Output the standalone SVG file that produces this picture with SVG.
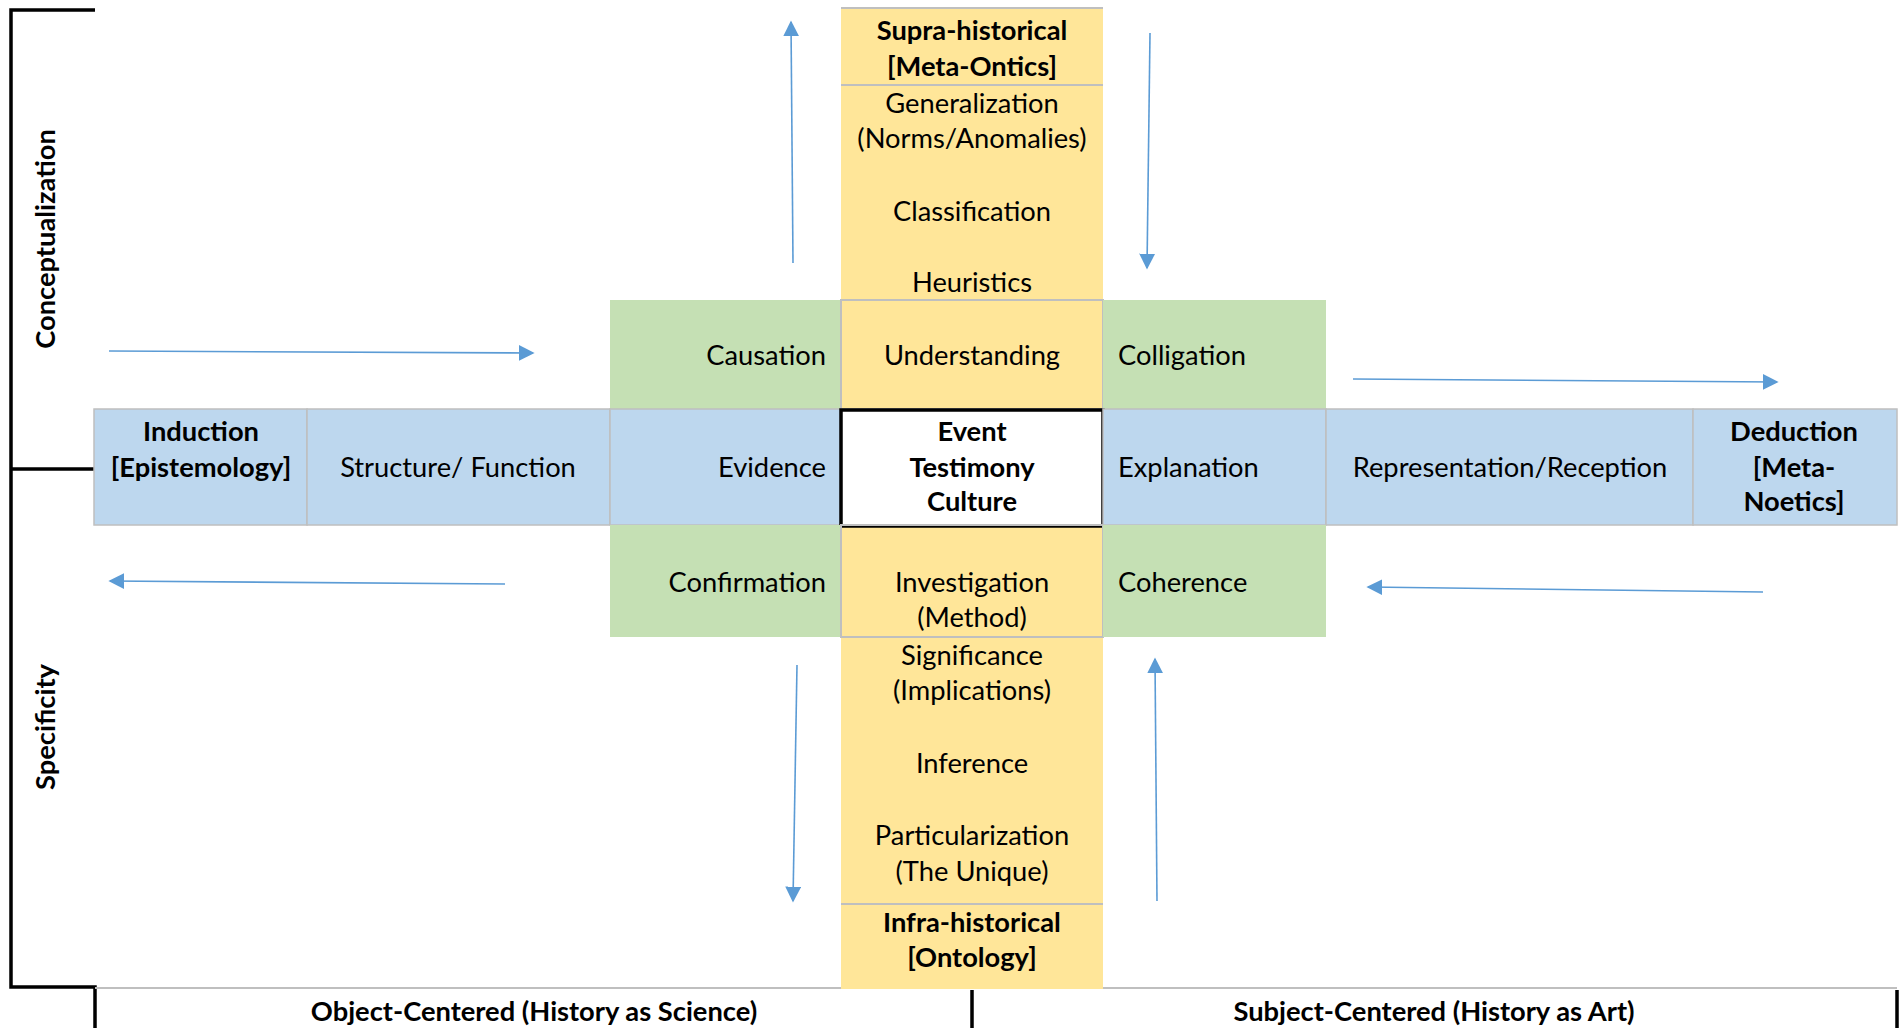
<svg xmlns="http://www.w3.org/2000/svg" width="1902" height="1028" viewBox="0 0 1902 1028">
<defs>
<style>
text{font-family:Lato,"Liberation Sans",sans-serif;font-size:27.3px;fill:#000}
.b{font-weight:bold}
.c{text-anchor:middle}
.e{text-anchor:end}
.y{fill:#FFE699}
.g{fill:#C5E0B4}
.bl{fill:#BDD7EE;stroke:#BFBFBF;stroke-width:1.5}
.gl{fill:none;stroke:#BFBFBF;stroke-width:2}
.k{fill:none;stroke:#000;stroke-width:3.5}
.ar{stroke:#5B9BD5;stroke-width:1.6;fill:none;marker-end:url(#ah)}
</style>
<marker id="ah" viewBox="0 0 10 10" refX="9" refY="5" markerWidth="16" markerHeight="16" markerUnits="userSpaceOnUse" orient="auto">
<path d="M0,0 L10,5 L0,10 z" fill="#5B9BD5"/>
</marker>
</defs>
<rect width="1902" height="1028" fill="#fff"/>
<g id="frame">
<path class="k" d="M95,10 H11 V987 H95 V1028"/>
<path class="k" d="M11,469 H95"/>
<path class="k" d="M972,990 V1028 M1897,990 V1028"/>
<line x1="95" y1="988" x2="1897" y2="988" stroke="#BFBFBF" stroke-width="2"/>
</g>
<g id="column">
<rect class="y" x="841" y="8" width="262" height="981"/>
<line x1="841" y1="8" x2="1103" y2="8" stroke="#BFBFBF" stroke-width="2"/>
<line x1="841" y1="85" x2="1103" y2="85" stroke="#BFBFBF" stroke-width="2"/>
<line x1="841" y1="904" x2="1103" y2="904" stroke="#BFBFBF" stroke-width="2"/>
</g>
<g id="supra"><text class="b c" x="972" y="40">Supra-historical</text><text class="b c" x="972" y="76">[Meta-Ontics]</text></g>
<g id="generalization"><text class="c" x="972" y="113">Generalization</text><text class="c" x="972" y="148">(Norms/Anomalies)</text></g>
<g id="classification"><text class="c" x="972" y="221">Classification</text></g>
<g id="heuristics"><text class="c" x="972" y="292">Heuristics</text></g>
<g id="causation"><rect class="g" x="610" y="300" width="231" height="109"/><text class="e" x="826" y="365">Causation</text></g>
<g id="understanding"><rect class="gl" x="841" y="300" width="262" height="109"/><text class="c" x="972" y="365">Understanding</text></g>
<g id="colligation"><rect class="g" x="1103" y="300" width="223" height="109"/><text x="1118" y="365">Colligation</text></g>
<g id="induction"><rect class="bl" x="94" y="409" width="213" height="116"/><text class="b c" x="201" y="441">Induction</text><text class="b c" x="201" y="477">[Epistemology]</text></g>
<g id="structure"><rect class="bl" x="307" y="409" width="303" height="116"/><text class="c" x="458" y="477">Structure/ Function</text></g>
<g id="evidence"><rect class="bl" x="610" y="409" width="231" height="116"/><text class="e" x="826" y="477">Evidence</text></g>
<g id="event"><rect x="841" y="410" width="262" height="116" fill="#fff" stroke="#000" stroke-width="3.5"/><text class="b c" x="972" y="441">Event</text><text class="b c" x="972" y="477">Testimony</text><text class="b c" x="972" y="511">Culture</text></g>
<g id="explanation"><rect class="bl" x="1103" y="409" width="223" height="116"/><text x="1118" y="477">Explanation</text></g>
<g id="representation"><rect class="bl" x="1326" y="409" width="367" height="116"/><text class="c" x="1510" y="477">Representation/Reception</text></g>
<g id="deduction"><rect class="bl" x="1693" y="409" width="204" height="116"/><text class="b c" x="1794" y="441">Deduction</text><text class="b c" x="1794" y="477">[Meta-</text><text class="b c" x="1794" y="511">Noetics]</text></g>
<g id="confirmation"><rect class="g" x="610" y="525" width="231" height="112"/><text class="e" x="826" y="592">Confirmation</text></g>
<g id="investigation"><rect class="gl" x="841" y="525" width="262" height="112"/><text class="c" x="972" y="592">Investigation</text><text class="c" x="972" y="627">(Method)</text></g>
<g id="coherence"><rect class="g" x="1103" y="525" width="223" height="112"/><text x="1118" y="592">Coherence</text></g>
<g id="significance"><text class="c" x="972" y="665">Significance</text><text class="c" x="972" y="700">(Implications)</text></g>
<g id="inference"><text class="c" x="972" y="773">Inference</text></g>
<g id="particularization"><text class="c" x="972" y="845">Particularization</text><text class="c" x="972" y="881">(The Unique)</text></g>
<g id="infra"><text class="b c" x="972" y="932">Infra-historical</text><text class="b c" x="972" y="967">[Ontology]</text></g>
<g id="labels">
<text class="b c" transform="translate(55,239) rotate(-90)">Conceptualization</text>
<text class="b c" transform="translate(55,727) rotate(-90)">Specificity</text>
<text class="b c" x="534" y="1021">Object-Centered (History as Science)</text>
<text class="b c" x="1434" y="1021">Subject-Centered (History as Art)</text>
</g>
<g id="connectors">
<line class="ar" x1="793" y1="263" x2="791" y2="22"/>
<line class="ar" x1="1150" y1="33" x2="1147" y2="268"/>
<line class="ar" x1="109" y1="351" x2="533" y2="353"/>
<line class="ar" x1="505" y1="584" x2="110" y2="581"/>
<line class="ar" x1="1353" y1="379" x2="1777" y2="382"/>
<line class="ar" x1="1763" y1="592" x2="1368" y2="587"/>
<line class="ar" x1="797" y1="665" x2="793" y2="901"/>
<line class="ar" x1="1157" y1="901" x2="1155" y2="659"/>
</g>
</svg>
